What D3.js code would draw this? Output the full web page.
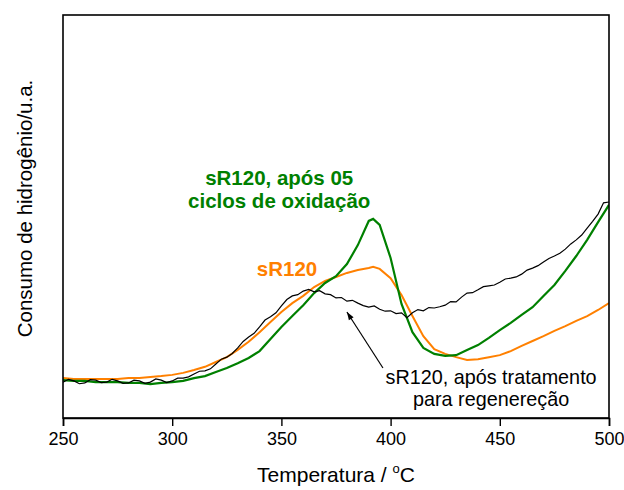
<!DOCTYPE html>
<html><head><meta charset="utf-8">
<script src="https://cdn.jsdelivr.net/npm/d3@7"></script>
<style>body{margin:0;background:#fff}svg{display:block}text{font-family:"Liberation Sans",Arial,sans-serif}</style>
</head><body>
<script>
// Temperatures (°C) for sR120 and sR120 after 5 oxidation cycles
const tempsAB = [250,255,260,265,270,275,280,285,290,295,300,305,310,315,320,325,330,335,340,345,350,355,360,365,370,375,380,385,390,392,395,400,405,410,415,420,425,430,435,440,445,450,455,460,465,470,475,480,485,490,495,500];
// sR120 (orange)
const orangeVals = [9.9,9.7,9.7,9.7,9.7,9.7,9.9,9.9,10.2,10.4,10.7,11.2,11.9,12.7,13.9,15.1,16.9,18.9,21.3,23.8,26.3,28.5,30.3,32.5,34.0,35.0,36.0,36.7,37.2,37.5,37.0,34.7,30.5,25.3,20.3,17.1,15.9,15.1,14.4,14.6,15.1,15.6,16.6,17.9,19.1,20.3,21.6,22.8,24.1,25.3,26.8,28.5];
// sR120, após 05 ciclos de oxidação (green)
const greenVals = [9.4,9.2,9.2,8.9,8.9,8.9,8.7,8.7,8.4,8.7,8.9,9.2,9.9,10.4,11.4,12.4,13.6,14.9,16.6,19.6,22.6,25.3,28.0,31.0,33.5,35.2,38.2,42.9,48.9,49.4,47.9,39.7,28.3,21.3,17.4,15.9,15.4,15.6,16.9,18.1,19.9,21.8,23.6,25.6,27.5,30.3,33.0,36.5,40.2,44.2,48.6,52.9];
// sR120, após tratamento para regenereção (black)
const tempsBlack = [250,252.5,255,257.5,260,262.5,265,267.5,270,272.5,275,277.5,280,282.5,285,287.5,290,292.5,295,297.5,300,302.5,305,307.5,310,312.5,315,317.5,320,322.5,325,327.5,330,332.5,335,337.5,340,342.5,345,347.5,350,352.5,355,357.5,360,362.5,365,367.5,370,372.5,375,377.5,380,382.5,385,387.5,390,392.5,395,397.5,400,402.5,405,407.5,410,412.5,415,417.5,420,422.5,425,427.5,430,432.5,435,437.5,440,442.5,445,447.5,450,452.5,455,457.5,460,462.5,465,467.5,470,472.5,475,477.5,480,482.5,485,487.5,490,492.5,495,497.5,500];
const blackVals = [8.9,9.6,9.2,8.5,8.7,9.5,9.4,8.8,8.9,9.6,9.2,8.6,8.7,9.4,9.2,8.6,8.9,9.7,9.4,8.8,9.2,9.9,9.9,10.2,10.9,11.6,11.7,12.2,13.4,14.6,15.1,16.0,17.4,19.0,20.1,21.0,22.6,24.3,25.1,26.1,27.8,29.4,30.3,30.6,31.5,31.9,31.3,31.6,30.8,30.6,29.8,29.9,29.0,29.2,28.5,27.9,27.5,27.8,27.0,26.5,26.6,25.9,26.1,24.9,26.1,26.9,26.6,27.4,27.3,27.6,28.0,28.9,28.8,30.0,31.0,31.1,31.8,32.6,32.8,33.0,33.7,34.5,34.7,35.0,35.7,36.7,37.2,37.8,38.7,39.6,40.2,40.9,41.9,43.2,44.2,45.4,47.1,48.8,50.6,53.4,53.6];
const xTicks = [250,300,350,400,450,500];

const W = 624, H = 490;
const m = {left:63, right:609, top:15, bottom:418};
const svg = d3.select("body").append("svg").attr("width",W).attr("height",H);
const x = d3.scaleLinear().domain([250,500]).range([m.left,m.right]);
const y = d3.scaleLinear().domain([0,100]).range([m.bottom,m.top]);

const defs = svg.append("defs");
defs.append("clipPath").attr("id","clip").append("rect")
  .attr("x",m.left).attr("y",m.top).attr("width",m.right-m.left).attr("height",m.bottom-m.top);
defs.append("marker").attr("id","arr").attr("viewBox","0 0 10 10").attr("refX",10).attr("refY",5)
  .attr("markerWidth",12).attr("markerHeight",8).attr("markerUnits","userSpaceOnUse").attr("orient","auto")
  .append("path").attr("d","M0,1.5 L10,5 L0,8.5 Z").attr("fill","#000");

const line = d3.line().x(d=>x(d[0])).y(d=>y(d[1]));
const g = svg.append("g").attr("clip-path","url(#clip)");
g.append("path").datum(tempsAB.map((t,i)=>[t,orangeVals[i]])).attr("d",line)
  .attr("fill","none").attr("stroke","#ff8000").attr("stroke-width",2);
g.append("path").datum(tempsAB.map((t,i)=>[t,greenVals[i]])).attr("d",line)
  .attr("fill","none").attr("stroke","#008000").attr("stroke-width",2.2);
g.append("path").datum(tempsBlack.map((t,i)=>[t,blackVals[i]])).attr("d",line)
  .attr("fill","none").attr("stroke","#000").attr("stroke-width",1.2);

// frame
svg.append("rect").attr("x",m.left).attr("y",m.top).attr("width",m.right-m.left).attr("height",m.bottom-m.top)
  .attr("fill","none").attr("stroke","#000").attr("stroke-width",1.6);

// x axis
const ax = svg.append("g").attr("transform",`translate(0,${m.bottom})`)
  .call(d3.axisBottom(x).tickValues(xTicks).tickSize(8).tickPadding(6).tickFormat(d3.format("d")));
ax.select(".domain").attr("stroke-width",1.6);
ax.selectAll(".tick line").attr("stroke-width",1.4);
ax.selectAll(".tick text").attr("font-size",18).attr("font-family","Liberation Sans, Arial, sans-serif").attr("fill","#000");

// axis titles
const xt = svg.append("text").attr("x",(m.left+m.right)/2).attr("y",482).attr("text-anchor","middle").attr("font-size",21);
xt.append("tspan").text("Temperatura / ");
xt.append("tspan").text("o").attr("font-size",13).attr("dy",-9);
xt.append("tspan").text("C").attr("dy",9);
svg.append("text").attr("transform",`translate(32,${(m.top+m.bottom)/2 - 8}) rotate(-90)`)
  .attr("text-anchor","middle").attr("font-size",20.5).text("Consumo de hidrogênio/u.a.");

// annotations
const green = svg.append("text").attr("text-anchor","middle").attr("font-size",20.5).attr("font-weight","bold").attr("fill","#008000");
green.append("tspan").attr("x",x(349)).attr("y",185).text("sR120, após 05");
green.append("tspan").attr("x",x(349)).attr("y",208).text("ciclos de oxidação");
svg.append("text").attr("x",x(352.6)).attr("y",276).attr("text-anchor","middle").attr("font-size",20.5)
  .attr("font-weight","bold").attr("fill","#ff8000").text("sR120");
const blk = svg.append("text").attr("text-anchor","middle").attr("font-size",19.8).attr("fill","#000");
blk.append("tspan").attr("x",x(446)).attr("y",384).text("sR120, após tratamento");
blk.append("tspan").attr("x",x(446)).attr("y",406).text("para regenereção");
svg.append("line").attr("x1",x(396.5)).attr("y1",y(12.4)).attr("x2",x(380)).attr("y2",y(26.3))
  .attr("stroke","#000").attr("stroke-width",1.2).attr("marker-end","url(#arr)");
</script>
</body></html>
